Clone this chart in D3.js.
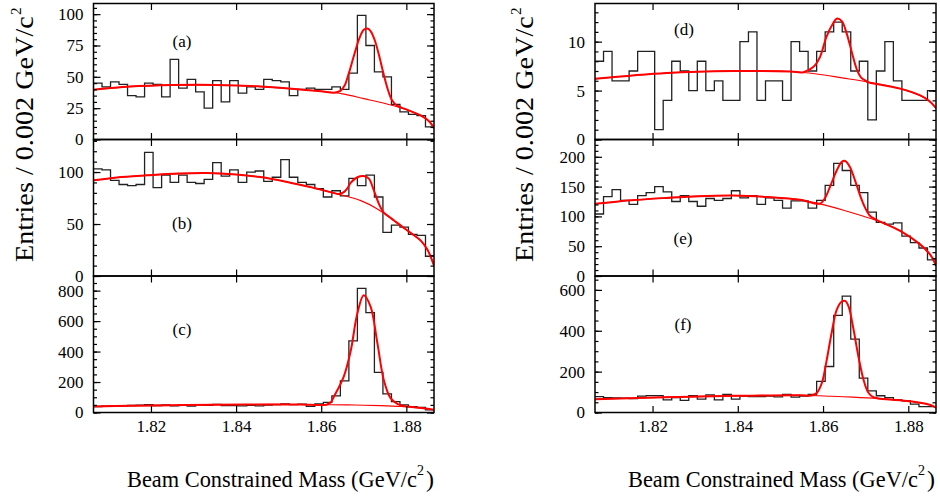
<!DOCTYPE html>
<html lang="en">
<head>
<meta charset="UTF-8">
<title>Beam constrained mass</title>
<style>
  body { margin: 0; background: #fff; }
  svg { display: block; font-family: "Liberation Serif", "DejaVu Serif", serif; }
</style>
</head>
<body>
<script src="https://d3js.org/d3.v7.min.js"></script>
<script>
// binning of all six histograms (GeV/c^2)
var binStart = 1.8065, binWidth = 0.002, nBins = 40;
var massTicks = [1.82, 1.84, 1.86, 1.88];

// entries per bin
var countsA = [45,42,46,44,35,34,45,44,34,64,41,48,38,25,47,30,47,37,42,40,48,47,46,35,40,41,40,40,42,40,53,99,75,54,50,28,22,20,19,10];
var countsB = [103,102,92,88,87,88,119,85,97,90,97,90,89,93,109,96,102,90,100,101,91,95,112,95,90,88,84,76,82,77,94,87,97,76,42,49,47,40,39,19];
var countsC = [39,42,44,43,46,48,52,46,50,44,48,42,50,47,53,46,45,44,47,43,48,52,57,52,55,40,56,66,109,208,470,815,656,264,122,72,50,39,33,17];
var countsD = [8,9,6,6,7,9,9,1,4,8,7,5,8,5,6,4,4,10,11,4,6,6,4,10,9,7,9,11,12,11,7,8,2,7,10,6,4,4,4,5];
var countsE = [104,133,145,127,120,135,140,150,141,125,135,125,117,130,127,130,143,131,135,120,131,127,114,126,126,114,127,152,189,177,152,140,107,90,87,89,67,56,47,27];
var countsF = [78,73,72,70,68,80,83,83,62,73,59,83,65,86,62,88,65,80,78,78,80,76,88,75,80,88,152,225,475,570,359,168,106,82,73,62,57,41,29,29];

// fit curves, [mass, entries]: background and the signal region of the total
var bkgA = [[1.8065,39.7],[1.815,42.2],[1.825,43.4],[1.835,43.5],[1.845,42.4],[1.855,39.9],[1.86,38.4],[1.865,36.4],[1.87,32.6],[1.875,28.7],[1.88,24],[1.8835,19],[1.8855,14],[1.8865,9]];
var peakA = [[1.863,37.3],[1.8645,38.8],[1.8655,43],[1.8665,53],[1.8677,67],[1.869,81],[1.87,87.5],[1.8708,88.5],[1.8716,86.5],[1.8726,79],[1.8736,67],[1.8746,53],[1.8756,40.5],[1.8766,31.5],[1.8778,27]];
var bkgB = [[1.8065,92],[1.812,94.8],[1.819,96.8],[1.8265,98.5],[1.833,99],[1.84,97.7],[1.8457,95.2],[1.852,90.5],[1.858,85],[1.8638,79],[1.8693,72.5],[1.8732,64.5],[1.8755,58],[1.8787,48.5],[1.881,41.5],[1.8834,34],[1.885,25],[1.8865,10]];
var peakB = [[1.8641,78.8],[1.8653,80.6],[1.8661,84],[1.8669,89.5],[1.8685,95],[1.87,96.2],[1.8712,93.6],[1.8724,82],[1.8736,69],[1.8747,61],[1.8758,57.5],[1.8772,53.2]];
var bkgC = [[1.8065,40],[1.815,44],[1.825,48],[1.835,51],[1.845,53],[1.855,52.5],[1.862,51],[1.868,49],[1.874,45],[1.879,39],[1.8835,30],[1.8865,18]];
var peakC = [[1.8612,51.5],[1.8622,65],[1.863,105],[1.8653,236],[1.8669,400],[1.8685,651],[1.87,770],[1.8716,695],[1.8732,455],[1.8747,214],[1.8763,94],[1.8779,57],[1.879,45]];
var bkgD = [[1.8065,6.2],[1.8233,6.8],[1.839,7.0],[1.8523,6.95],[1.8585,6.7],[1.8645,6.3],[1.8703,5.9],[1.8781,5.2],[1.8828,4.5],[1.885,3.9],[1.8865,3.2]];
var peakD = [[1.8554,6.88],[1.8577,7.4],[1.8593,8.45],[1.8608,10.5],[1.8624,11.9],[1.8632,12.35],[1.8644,12.1],[1.8655,10.9],[1.8667,9],[1.8679,7.2],[1.869,6.3],[1.8702,5.95]];
var bkgE = [[1.8065,121],[1.815,127],[1.8233,131],[1.831,134],[1.839,135],[1.847,132.5],[1.8546,128],[1.8593,121],[1.865,110],[1.8702,98.5],[1.8726,93],[1.878,76],[1.8827,53.5],[1.885,37],[1.8859,27],[1.8865,17]];
var peakE = [[1.8593,121.5],[1.8604,130],[1.8616,149],[1.8632,177],[1.8644,191.5],[1.8652,193],[1.8663,183],[1.8675,160.5],[1.8687,135],[1.8698,115.5],[1.871,101],[1.8722,95.5],[1.873,92.5]];
var bkgF = [[1.8065,65],[1.8233,75],[1.839,81.5],[1.8546,84.5],[1.862,79.5],[1.867,75],[1.873,68],[1.878,60],[1.8828,48],[1.885,38],[1.8865,24]];
var peakF = [[1.8573,83],[1.8585,95],[1.8597,143],[1.8608,250],[1.862,388],[1.8632,502],[1.8644,543],[1.8652,546],[1.866,518],[1.8671,412],[1.8683,274],[1.8695,160],[1.8706,98],[1.8718,75],[1.873,68.5]];

// y axes: labelled ticks, minor tick step, top of the range
var ticksA = [0,25,50,75,100], minorA = 5, topA = 108.5;
var ticksB = [0,50,100], minorB = 10, topB = 131.3;
var ticksC = [0,200,400,600,800], minorC = 50, topC = 896;
var ticksD = [0,5,10], minorD = 1, topD = 13.9;
var ticksE = [0,50,100,150,200], minorE = 10, topE = 229;
var ticksF = [0,200,400,600], minorF = 50, topF = 668;

var labels = ["(a)","(b)","(c)","(d)","(e)","(f)"];
var yTitle = "Entries / 0.002 GeV/c";
var xTitle = "Beam Constrained Mass (GeV/c";

var W = 940, H = 500;
var serif = "Liberation Serif, DejaVu Serif, serif";
var cols = [[93.5, 434], [595, 936]];
var rows = [3.5, 139.5, 276, 412.5];
var labelPos = [[182,47],[182,228.5],[182,335],[684,35.3],[683,243.5],[683,330]];

var panels = [
  {col:0, row:0, counts:countsA, bkg:bkgA, peak:peakA, ticks:ticksA, minor:minorA, top:topA},
  {col:0, row:1, counts:countsB, bkg:bkgB, peak:peakB, ticks:ticksB, minor:minorB, top:topB},
  {col:0, row:2, counts:countsC, bkg:bkgC, peak:peakC, ticks:ticksC, minor:minorC, top:topC},
  {col:1, row:0, counts:countsD, bkg:bkgD, peak:peakD, ticks:ticksD, minor:minorD, top:topD},
  {col:1, row:1, counts:countsE, bkg:bkgE, peak:peakE, ticks:ticksE, minor:minorE, top:topE},
  {col:1, row:2, counts:countsF, bkg:bkgF, peak:peakF, ticks:ticksF, minor:minorF, top:topF}
];

var svg = d3.select("body").append("svg").attr("width", W).attr("height", H);

var edges = d3.range(nBins + 1).map(function(i) { return binStart + i * binWidth; });

function totalCurve(bkg, peak) {
  var lo = peak[0][0], hi = peak[peak.length - 1][0];
  return bkg.filter(function(p) { return p[0] < lo; })
    .concat(peak, bkg.filter(function(p) { return p[0] > hi; }));
}

function styleAxis(g) {
  g.select(".domain").remove();
  g.attr("font-family", serif).attr("font-size", 17);
  g.selectAll(".tick line").attr("stroke", "#000").attr("stroke-width", 1.2);
  g.selectAll(".tick text").attr("fill", "#000");
}

panels.forEach(function(p, k) {
  var x0 = cols[p.col][0], x1 = cols[p.col][1];
  var yt = rows[p.row], yb = rows[p.row + 1];
  var x = d3.scaleLinear().domain([edges[0], edges[nBins]]).range([x0, x1]);
  var y = d3.scaleLinear().domain([0, p.top]).range([yb, yt]);
  var g = svg.append("g");

  g.append("clipPath").attr("id", "clip" + k)
    .append("rect").attr("x", x0).attr("y", yt).attr("width", x1 - x0).attr("height", yb - yt);
  var plot = g.append("g").attr("clip-path", "url(#clip" + k + ")");

  // histogram outline
  var steps = edges.map(function(e, i) { return [e, p.counts[Math.min(i, nBins - 1)]]; });
  plot.append("path")
    .attr("d", d3.line().x(function(d) { return x(d[0]); }).y(function(d) { return y(d[1]); }).curve(d3.curveStepAfter)(steps))
    .attr("fill", "none").attr("stroke", "#222").attr("stroke-width", 1.3);

  var fit = d3.line().x(function(d) { return x(d[0]); }).y(function(d) { return y(d[1]); })
    .curve(d3.curveCatmullRom.alpha(0.5));
  plot.append("path").attr("d", fit(p.bkg))
    .attr("fill", "none").attr("stroke", "#f00").attr("stroke-width", 1.1);
  plot.append("path").attr("d", fit(totalCurve(p.bkg, p.peak)))
    .attr("fill", "none").attr("stroke", "#f00").attr("stroke-width", 2);

  // y ticks, inward on both sides
  var minors = d3.range(0, p.top, p.minor);
  g.append("g").attr("transform", "translate(" + x0 + ",0)")
    .call(d3.axisLeft(y).tickValues(p.ticks).tickSize(-7).tickPadding(10)).call(styleAxis);
  g.append("g").attr("transform", "translate(" + x0 + ",0)")
    .call(d3.axisLeft(y).tickValues(minors).tickSize(-3.5).tickFormat("")).call(styleAxis);
  g.append("g").attr("transform", "translate(" + x1 + ",0)")
    .call(d3.axisRight(y).tickValues(p.ticks).tickSize(-7).tickFormat("")).call(styleAxis);
  g.append("g").attr("transform", "translate(" + x1 + ",0)")
    .call(d3.axisRight(y).tickValues(minors).tickSize(-3.5).tickFormat("")).call(styleAxis);

  // x ticks, inward top and bottom
  g.append("g").attr("transform", "translate(0," + yt + ")")
    .call(d3.axisTop(x).tickValues(massTicks).tickSize(-6.5).tickFormat("")).call(styleAxis);
  g.append("g").attr("transform", "translate(0," + yb + ")")
    .call(d3.axisBottom(x).tickValues(massTicks).tickSize(-6.5).tickPadding(7)
      .tickFormat(p.row === 2 ? d3.format(".2f") : "")).call(styleAxis);

  g.append("rect").attr("x", x0).attr("y", yt).attr("width", x1 - x0).attr("height", yb - yt)
    .attr("fill", "none").attr("stroke", "#000").attr("stroke-width", 1.5);

  g.append("text").attr("x", labelPos[k][0]).attr("y", labelPos[k][1])
    .attr("text-anchor", "middle").attr("font-size", 17).text(labels[k]);
});

// squeeze or stretch a title to a given length with a scale transform
function fitTitle(parent, str, size, len) {
  var s = parent.append("g");
  var t = s.append("text").attr("font-size", size).text(str);
  var w = t.node().getComputedTextLength();
  s.attr("transform", "scale(" + (len / w) + ",1)");
}

// axis titles for both columns; the superscripts are separate texts
[0, 1].forEach(function(c) {
  var yg = svg.append("g")
    .attr("transform", "translate(" + (c === 0 ? 33 : 533) + ",262) rotate(-90)");
  fitTitle(yg, yTitle, 26, 246);
  yg.append("text").attr("x", 247).attr("y", -12).attr("font-size", 15).text("2");

  var xg = svg.append("g").attr("transform", "translate(" + (c === 0 ? 127 : 628) + ",487)");
  fitTitle(xg, xTitle, 24, 290);
  xg.append("text").attr("x", 290).attr("y", -12).attr("font-size", 14).text("2");
  xg.append("text").attr("x", 299).attr("y", 0).attr("font-size", 24).text(")");
});
</script>
</body>
</html>
